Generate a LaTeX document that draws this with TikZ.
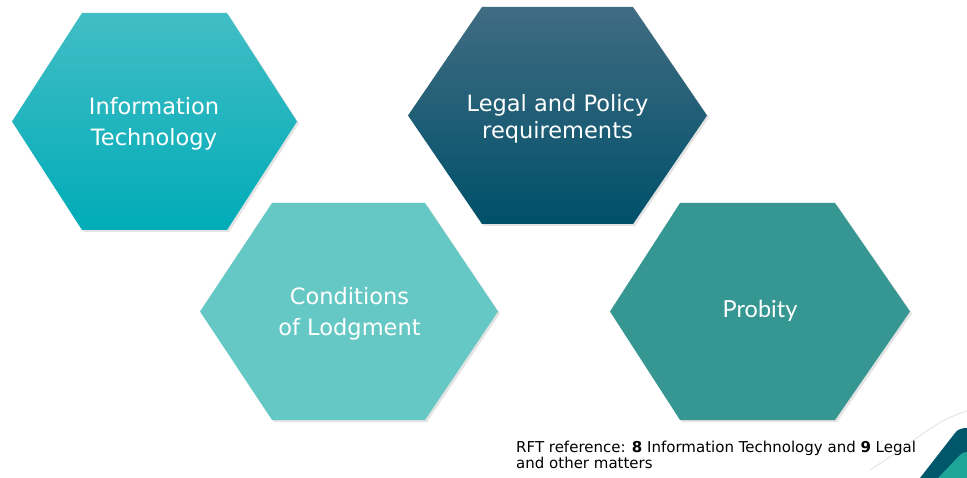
\documentclass[tikz,border=0pt]{standalone}
\usepackage{fontspec}
\setmainfont{DejaVu Sans}
\newfontfamily\latofont{Lato}
\definecolor{itTop}{RGB}{66,189,197}
\definecolor{itBot}{RGB}{0,172,184}
\definecolor{lgTop}{RGB}{64,108,130}
\definecolor{lgBot}{RGB}{0,80,106}
\definecolor{condC}{RGB}{102,200,196}
\definecolor{probC}{RGB}{54,150,145}
\definecolor{cornerDark}{RGB}{0,86,106}
\definecolor{cornerTeal}{RGB}{30,165,152}
\tikzset{
  hexshadow/.style={fill=black, opacity=0.11},
  hextext/.style={text=white, align=center, inner sep=0pt},
}
\begin{document}
\begin{tikzpicture}[x=1pt,y=-1pt]
\useasboundingbox (0,0) rectangle (967,478);
% shadows
\fill[hexshadow] (84,15) -- (229,15) -- (299,123.5) -- (229,232) -- (84,232) -- (14,123.5) -- cycle;
\fill[hexshadow] (484,9) -- (635,9) -- (709,117.5) -- (635,226) -- (484,226) -- (410,117.5) -- cycle;
\fill[hexshadow] (274,205) -- (427,205) -- (500,313.5) -- (427,422) -- (274,422) -- (202,313.5) -- cycle;
\fill[hexshadow] (682,205) -- (837,205) -- (912,313.5) -- (837,422) -- (682,422) -- (612,313.5) -- cycle;
% hexagons
\shade[top color=itTop, bottom color=itBot] (82,13) -- (227,13) -- (297,121.5) -- (227,230) -- (82,230) -- (12,121.5) -- cycle;
\shade[top color=lgTop, bottom color=lgBot] (482,7) -- (633,7) -- (707,115.5) -- (633,224) -- (482,224) -- (408,115.5) -- cycle;
\fill[condC] (272,203) -- (425,203) -- (498,311.5) -- (425,420) -- (272,420) -- (200,311.5) -- cycle;
\fill[probC] (680,203) -- (835,203) -- (910,311.5) -- (835,420) -- (680,420) -- (610,311.5) -- cycle;
% texts
\node[hextext, font=\fontsize{22.5}{31}\selectfont] (it) at (154,123.5) {Information\\Technology};
\node[hextext, font=\fontsize{22.5}{27}\selectfont] (legal) at (557.5,118.5) {Legal and Policy\\requirements};
\node[hextext, font=\fontsize{22.5}{31}\selectfont] (cond) at (349.5,313.5) {Conditions\\of Lodgment};
\node[hextext, font=\latofont\fontsize{23.5}{28}\selectfont] (prob) at (760,311) {Probity};
% corner decoration
\draw[black!12, line width=0.8pt] (870,470) .. controls (910,445) and (935,420) .. (967,411);
\fill[cornerDark] (920,478) -- (955,433) .. controls (958,429) and (962,428) .. (967,428) -- (967,478) -- cycle;
\fill[cornerTeal] (938,478) -- (960,455) .. controls (962,453) and (964,452) .. (967,452) -- (967,478) -- cycle;
% footnote
\node[anchor=base west, inner sep=0pt, font=\fontsize{15}{16}\selectfont] (rft1) at (516,452) {RFT reference: \textbf{8} Information Technology and \textbf{9} Legal};
\node[anchor=base west, inner sep=0pt, font=\fontsize{15}{16}\selectfont] (rft2) at (516,468) {and other matters};
\end{tikzpicture}
\end{document}
